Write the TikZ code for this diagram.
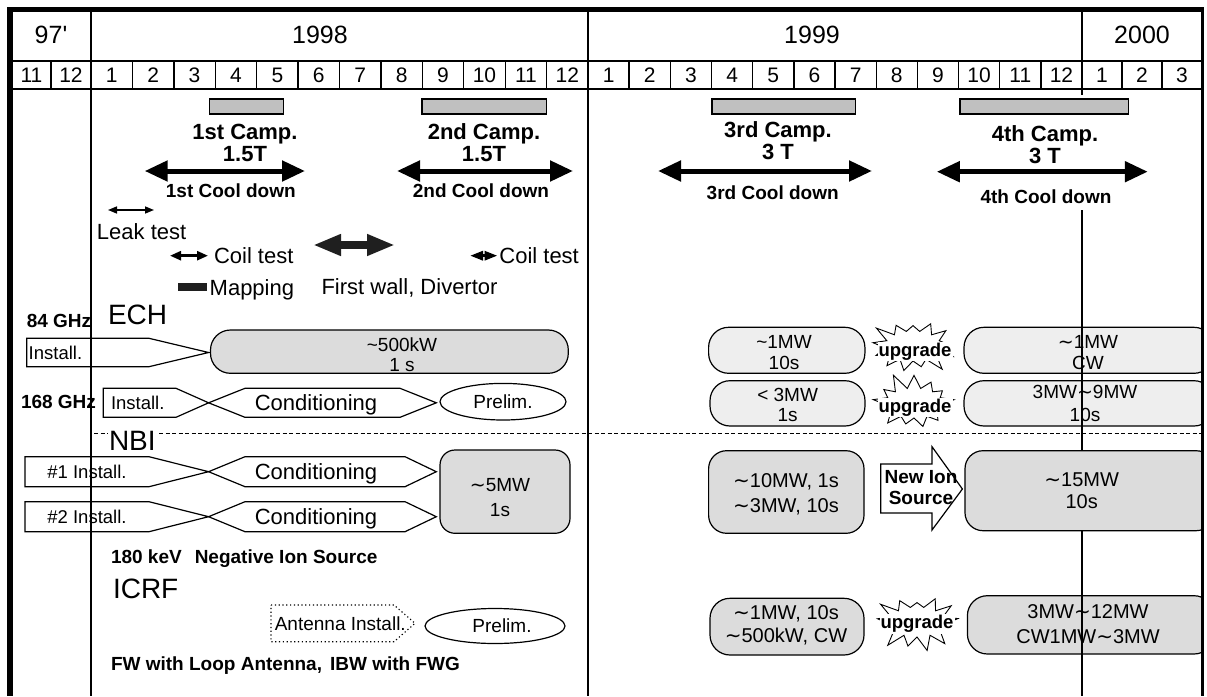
\documentclass[tikz,border=0pt]{standalone}
\usepackage{fontspec}
\setmainfont{Liberation Sans}
\newfontfamily\djv{DejaVu Sans}
\newfontfamily\plainarial[Ligatures=TeXOff]{Liberation Sans}
\usetikzlibrary{arrows.meta,shapes.symbols,shapes.geometric}
\definecolor{boxgrey}{HTML}{DCDCDC}
\definecolor{boxlight}{HTML}{EEEEEE}
\definecolor{campgrey}{HTML}{C0C0C0}
\newcommand\tld{{\djv ∼}}
\newcommand\fsYear{\fontsize{25}{25}\selectfont}
\newcommand\fsMon{\fontsize{21}{21}\selectfont}
\newcommand\fsBig{\fontsize{28}{28}\selectfont}
\newcommand\fsLbl{\fontsize{22}{22}\selectfont}
\newcommand\fsSm{\fontsize{18.5}{20}\selectfont}
\newcommand\fsBold{\bfseries\fontsize{19}{21}\selectfont}
\newcommand\fsCamp{\bfseries\fontsize{22}{22}\selectfont}
\begin{document}
\begin{tikzpicture}[x=1pt,y=-1pt,
  every node/.style={inner sep=0pt, outer sep=0pt},
  gridline/.style={line width=1.4pt},
  campbar/.style={draw, line width=1.2pt, fill=campgrey},
  cool/.style={line width=5pt, {Triangle[length=23pt,width=20pt]}-{Triangle[length=23pt,width=20pt]}},
  leak/.style={line width=1.5pt, {Triangle[length=9pt,width=7pt]}-{Triangle[length=9pt,width=7pt]}},
  coil/.style={line width=2.5pt, {Triangle[length=11pt,width=9pt]}-{Triangle[length=11pt,width=9pt]}},
  coilb/.style={line width=3pt, {Triangle[length=13pt,width=9pt]}-{Triangle[length=13pt,width=9pt]}},
  bigarr/.style={line width=8pt, black!88, {Triangle[length=28pt,width=20pt]}-{Triangle[length=28pt,width=20pt]}},
  yr/.style={font=\fsYear, anchor=base},
  mon/.style={font=\fsMon, anchor=base},
  camp/.style={font=\fsCamp, align=center},
  cd/.style={font=\bfseries\fontsize{19}{19}\selectfont, anchor=base},
  lbl/.style={font=\fsLbl, anchor=base west},
  big/.style={font=\fsBig, anchor=base west},
  bld/.style={font=\fsBold, anchor=base west},
  shp/.style={draw, line width=1.2pt, fill=white, line join=miter},
  rbox/.style={draw, line width=1.2pt, rounded corners=20pt, fill=boxgrey},
  rboxl/.style={rbox, fill=boxlight},
  btxt/.style={font=\fontsize{19}{21}\selectfont, align=center},
  burst/.style={starburst, draw, fill=white, line width=0.9pt, minimum width=90pt, minimum height=64pt, starburst points=13, starburst point height=17pt},
  upg/.style={font=\bfseries\fontsize{18.5}{18.5}\selectfont, fill=white, inner sep=1pt},
  ell/.style={ellipse, draw, line width=1.2pt, fill=white, font=\fontsize{19}{19}\selectfont},
  nbidash/.style={line width=1.2pt, dash pattern=on 4pt off 2.5pt}
]
\useasboundingbox (0,0) rectangle (1207,696);
\fill[white] (0,0) rectangle (1207,696);

% ---------- header ----------
\draw[gridline] (12,61) -- (1202,61);
\draw[gridline] (12,89) -- (1202,89);
\draw[gridline] (51,61) -- (51,89);
\foreach \m in {1,...,11} {\draw[gridline] ({91+41.42*\m},61) -- ({91+41.42*\m},89);}
\foreach \m in {1,...,11} {\draw[gridline] ({588+41.17*\m},61) -- ({588+41.17*\m},89);}
\foreach \m in {1,2} {\draw[gridline] ({1082+40*\m},61) -- ({1082+40*\m},89);}

\node[yr] (y97) at (51,43) {{\plainarial 97'}};
\node[yr] (y98) at (320,43) {1998};
\node[yr] (y99) at (812,43) {1999};
\node[yr] (y00) at (1142,43) {2000};

\node[mon] (m97a) at (31.5,82.5) {11};
\node[mon] (m97b) at (71,82.5) {12};
\foreach \m in {1,...,12} {\node[mon] (m98-\m) at ({91+41.42*(\m-0.5)},82.5) {\m};}
\foreach \m in {1,...,12} {\node[mon] (m99-\m) at ({588+41.17*(\m-0.5)},82.5) {\m};}
\foreach \m in {1,2,3} {\node[mon] (m00-\m) at ({1082+40*(\m-0.5)},82.5) {\m};}

% ---------- campaigns ----------
\draw[campbar] (209.7,99) rectangle (283.2,114);
\draw[campbar] (422,99) rectangle (546.5,114);
\draw[campbar] (712,99) rectangle (855.5,114);
\draw[campbar] (960,99) rectangle (1128.5,114);

\node[camp] (c1t) at (245,142.5) {1st Camp.\\1.5T};
\node[camp] (c2t) at (484,142.5) {2nd Camp.\\1.5T};
\node[camp] (c3t) at (778,141) {3rd Camp.\\3 T};
\node[camp] (c4t) at (1045,144.5) {4th Camp.\\3 T};

\coordinate (a1l) at (144.7,171); \coordinate (a1r) at (305,171);
\coordinate (a2l) at (397,171);   \coordinate (a2r) at (573,171);
\coordinate (a3l) at (658,171);   \coordinate (a3r) at (872,171);
\coordinate (a4l) at (936.8,171.7); \coordinate (a4r) at (1147.8,171.7);
\draw[cool] (a1l) -- (a1r);
\draw[cool] (a2l) -- (a2r);
\draw[cool] (a3l) -- (a3r);
\draw[cool] (a4l) -- (a4r);

\node[cd] (cd1) at (230.8,197.8) {1st Cool down};
\node[cd] (cd2) at (481,197.8) {2nd Cool down};
\node[cd] (cd3) at (772.7,199.5) {3rd Cool down};
\node[cd] (cd4) at (1046,203.5) {4th Cool down};

% ---------- tests ----------
\coordinate (lk1) at (108,210); \coordinate (lk2) at (154,210);
\draw[leak] (lk1) -- (lk2);
\node[lbl, anchor=base] (lkt) at (141.6,239.8) {Leak test};

\coordinate (ct1a) at (170,255.7); \coordinate (ct1b) at (208,255.7);
\draw[coil] (ct1a) -- (ct1b);
\node[lbl] (ct1) at (214,263.6) {Coil test};

\coordinate (fw1) at (313,245); \coordinate (fw2) at (395,245);
\draw[bigarr] (fw1) -- (fw2);

\coordinate (ct2a) at (470,255.7); \coordinate (ct2b) at (497.5,255.7);
\draw[coilb] (ct2a) -- (ct2b);
\node[lbl] (ct2) at (499.4,263.6) {Coil test};

\fill[black!88] (178,283) rectangle (207,291);
\node[lbl] (map) at (209.7,295.5) {Mapping};
\node[lbl] (fwd) at (321.5,294.8) {First wall, Divertor};

% ---------- ECH ----------
\node[bld] (g84) at (26.8,327.5) {84 GHz};
\node[big] (ech) at (108,324) {ECH};

\draw[shp] (26.8,338.3) -- (149,338.3) -- (208.6,352.5) -- (149,366.7) -- (26.8,366.7) -- cycle;
\node[font=\fsSm, anchor=base west] (ei1) at (28.7,359.2) {Install.};
\node[rbox, minimum width=357.8pt, minimum height=43.3pt] (ech1) at (389.4,351.65) {};
\node[btxt, font=\fontsize{19}{20}\selectfont] (ech1t) at (402,354.5) {\textasciitilde500kW\\1 s};

\node[bld] (g168) at (21,408.5) {168 GHz};
\draw[shp] (103.3,388.3) -- (176,388.3) -- (208.6,402.8) -- (176,417.3) -- (103.3,417.3) -- cycle;
\node[font=\fsSm, anchor=base west] (ei2) at (111,409.5) {Install.};
\draw[shp] (208.6,402.8) -- (245,388.3) -- (400,388.3) -- (436.3,402.8) -- (400,417.3) -- (245,417.3) -- cycle;
\node[lbl, anchor=base] (cond0) at (316,410.7) {Conditioning};
\node[ell, minimum width=126pt, minimum height=36.6pt] (pre1) at (503,401.7) {Prelim.};

% ---------- NBI ----------
\draw[nbidash] (94,433.3) -- (1202,433.3);
\node[big, fill=white, inner xsep=1pt, inner ysep=0pt] (nbi) at (108,450) {NBI};

\draw[shp] (24.9,456.7) -- (149,456.7) -- (208.6,471.7) -- (149,486.7) -- (24.9,486.7) -- cycle;
\node[font=\fsSm, anchor=base] (ni1) at (87,478.4) {\#1 Install.};
\draw[shp] (208.6,471.7) -- (245,456.7) -- (405,456.7) -- (436.3,471.7) -- (405,486.7) -- (245,486.7) -- cycle;
\node[lbl, anchor=base] (cond1) at (316,479.6) {Conditioning};

\draw[shp] (24.9,501.7) -- (149,501.7) -- (208.6,516.7) -- (149,531.7) -- (24.9,531.7) -- cycle;
\node[font=\fsSm, anchor=base] (ni2) at (87,523.4) {\#2 Install.};
\draw[shp] (208.6,516.7) -- (245,501.7) -- (405,501.7) -- (436.3,516.7) -- (405,531.7) -- (245,531.7) -- cycle;
\node[lbl, anchor=base] (cond2) at (316,524.6) {Conditioning};

\node[rbox, rounded corners=15pt, minimum width=130pt, minimum height=83.3pt] (nb1) at (505,491.65) {};
\node[btxt, font=\fontsize{19}{24.3}\selectfont] (nb1t) at (500,497.5) {\tld5MW\\1s};

\node[bld] (nis) at (111,563.5) {180 keV\hspace{13pt}Negative Ion Source};

% ---------- ICRF ----------
\node[big] (icrf) at (113,598.3) {ICRF};
\draw[line width=1.1pt, dash pattern=on 1.2pt off 2.6pt, fill=white] (271,605) -- (394,605) -- (415,623.3) -- (394,641.7) -- (271,641.7) -- cycle;
\node[font=\fontsize{19}{19}\selectfont, anchor=base west] (ant) at (274.8,630) {Antenna Install.};
\node[ell, minimum width=140pt, minimum height=35pt] (pre2) at (495,626) {\hspace{14pt}Prelim.};
\node[bld] (fwl) at (111,670) {FW with Loop Antenna,\hspace{8pt}IBW with FWG};

% ---------- right side ----------
\node[rboxl, minimum width=156.3pt, minimum height=46pt] (e2) at (786.75,350.3) {};
\node[btxt] (e2t) at (784,352.5) {\textasciitilde1MW\\10s};
\node[rboxl, minimum width=155pt, minimum height=45.3pt] (e3) at (787.5,403.35) {};
\node[btxt, font=\fontsize{19}{20}\selectfont] (e3t) at (787.6,405) {< 3MW\\1s};

\node[burst, random starburst=3] (u1) at (913,346) {};
\node[upg] (u1t) at (915,351.7) {upgrade};
\node[burst, random starburst=11] (u2) at (914,403) {};
\node[upg] (u2t) at (915,407.3) {upgrade};

\node[rbox, rounded corners=18pt, minimum width=155.4pt, minimum height=82.6pt] (n2) at (786.3,492) {};
\node[btxt, font=\fontsize{20}{25}\selectfont] (n2t) at (786,494.2) {\tld10MW, 1s\\\tld3MW, 10s};

\draw[shp] (880.7,464) -- (932,464) -- (932,446.7) -- (962.4,489) -- (932,530) -- (932,513) -- (880.7,513) -- cycle;
\node[font=\fsBold, align=center] (nion) at (921,488) {New Ion\\Source};

\node[rbox, minimum width=154pt, minimum height=56.7pt] (i2) at (787,626.65) {};
\node[btxt, font=\fontsize{20}{23.4}\selectfont] (i2t) at (786,625) {\tld1MW, 10s\\\tld500kW, CW};
\node[burst, random starburst=23] (u3) at (917,622) {};
\node[upg] (u3t) at (917,624) {upgrade};

\begin{scope}
\clip (0,0) rectangle (1201,696);
\node[rboxl, minimum width=250pt, minimum height=46pt] (e4) at (1089,350.3) {};
\node[rboxl, minimum width=250pt, minimum height=45.3pt] (e5) at (1089,403.35) {};
\node[rbox, rounded corners=18pt, minimum width=249pt, minimum height=80pt] (n3) at (1089.5,490.7) {};
\node[rbox, minimum width=246.6pt, minimum height=58.3pt] (i3) at (1090.7,624.85) {};
\end{scope}
\node[btxt] (e4t) at (1088,352.3) {\tld1MW\\CW};
\node[btxt, font=\fontsize{19}{23.3}\selectfont] (e5t) at (1085,403.3) {3MW\tld9MW\\10s};
\node[btxt, font=\fontsize{20}{21.7}\selectfont] (n3t) at (1081.7,490.8) {\tld15MW\\10s};

% ---------- year separators (on top) ----------
\draw[gridline] (91,12) -- (91,696);
\draw[gridline] (588,12) -- (588,696);
\draw[gridline] (1082,12) -- (1082,95);
\draw[gridline] (1082,210) -- (1082,450.7);
\draw[gridline] (1082,530.7) -- (1082,696);
\node[btxt, font=\fontsize{20}{25}\selectfont] (i3t) at (1088,624.2) {3MW\tld12MW\\CW1MW\tld3MW};

% ---------- frame ----------
\draw[line width=5pt] (7.5,9.5) -- (1203.5,9.5);
\draw[line width=5.5pt] (10,7) -- (10,696);
\draw[line width=3pt] (1202,8) -- (1202,696);
\end{tikzpicture}
\end{document}
